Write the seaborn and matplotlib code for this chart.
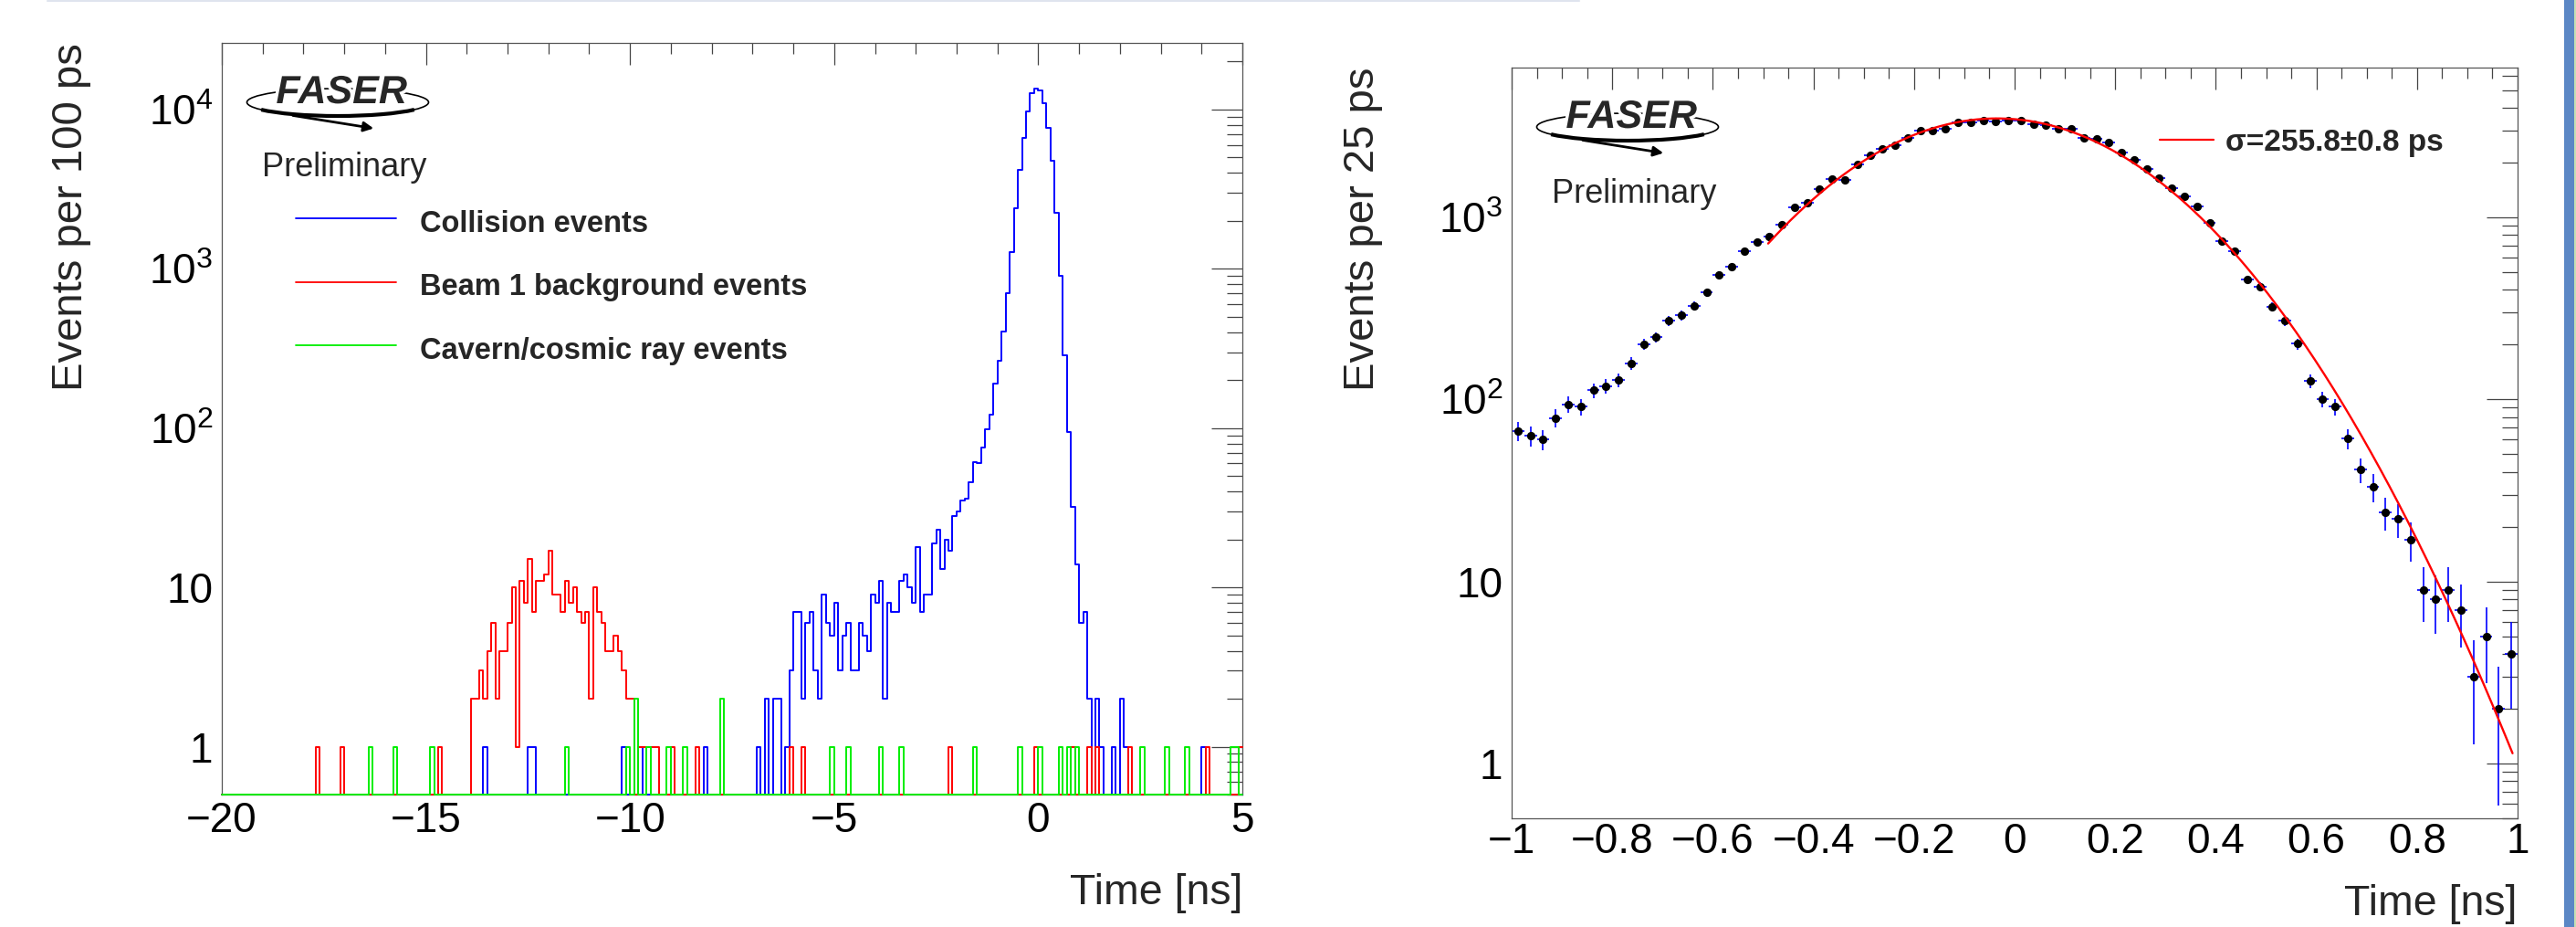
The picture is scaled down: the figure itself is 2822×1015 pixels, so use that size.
import numpy as np
import pandas as pd
import matplotlib
matplotlib.use("Agg")
import matplotlib.pyplot as plt
import matplotlib.patheffects as pe
from matplotlib.patches import Ellipse, Arc, Rectangle, FancyArrowPatch
from matplotlib.lines import Line2D
from matplotlib.ticker import (FixedLocator, MultipleLocator, LogLocator,
                               FuncFormatter, NullFormatter)
import seaborn as sns

sns.set_style("white")
plt.rcParams['font.family'] = ['Liberation Sans', 'DejaVu Sans']
plt.rcParams['mathtext.fontset'] = 'custom'
plt.rcParams['mathtext.rm'] = 'Liberation Sans'
plt.rcParams['mathtext.it'] = 'Liberation Sans:italic'
plt.rcParams['mathtext.bf'] = 'Liberation Sans:bold'

# ---------------- data: left panel (100 ps bins, -20 .. 5 ns) ----------------
# lower edge of every non-empty bin and its count
coll_lo = [-13.6, -12.5, -12.4, -10.2, -9.8, -8.2, -6.9, -6.7, -6.5, -6.4,
           -6.2, -6.1, -6.0, -5.9, -5.8, -5.7, -5.6, -5.5, -5.4, -5.3,
           -5.2, -5.1, -5.0, -4.9, -4.8, -4.7, -4.6, -4.5, -4.4, -4.3,
           -4.2, -4.1, -4.0, -3.9, -3.8, -3.7, -3.6, -3.5, -3.4, -3.3,
           -3.2, -3.1, -3.0, -2.9, -2.8, -2.7, -2.6, -2.5, -2.4, -2.3,
           -2.2, -2.1, -2.0, -1.9, -1.8, -1.7, -1.6, -1.5, -1.4, -1.3,
           -1.2, -1.1, -1.0, -0.9, -0.8, -0.7, -0.6, -0.5, -0.4, -0.3,
           -0.2, -0.1, 0.0, 0.1, 0.2, 0.3, 0.4, 0.5, 0.6, 0.7,
           0.8, 0.9, 1.0, 1.1, 1.2, 1.4, 1.5, 1.8, 2.0, 2.1, 4.0]
coll_n = [1, 1, 1, 1, 1, 1, 1, 2, 2, 2,
          1, 3, 7, 7, 2, 6, 7, 3, 2, 9,
          6, 5, 8, 3, 5, 6, 3, 3, 6, 5,
          4, 9, 8, 11, 2, 8, 7, 7, 11, 12,
          10, 8, 18, 7, 9, 9, 19, 23, 13, 20,
          17, 28, 30, 35, 36, 46, 61, 60, 76, 98,
          122, 190, 265, 405, 705, 1280, 2390, 4160, 6640, 9750,
          12600, 13500, 13100, 11000, 7700, 4800, 2260, 900, 287, 94,
          32, 14, 6, 7, 2, 2, 1, 1, 2, 1, 1]

beam_lo = [-17.7, -17.1, -14.7, -13.9, -13.8, -13.7, -13.6, -13.5, -13.4, -13.3,
           -13.2, -13.1, -13.0, -12.9, -12.8, -12.7, -12.6, -12.5, -12.4, -12.3,
           -12.2, -12.1, -12.0, -11.9, -11.8, -11.7, -11.6, -11.5, -11.4, -11.3,
           -11.2, -11.1, -11.0, -10.9, -10.8, -10.7, -10.6, -10.5, -10.4, -10.3,
           -10.2, -10.1, -10.0, -9.8, -9.7, -9.6, -9.5, -9.4, -9.0, -8.4,
           -6.1, -5.8, -2.2, -0.1, 0.8, 1.2, 1.4, 2.2, 4.1, 4.9]
beam_n = [1, 1, 1, 2, 2, 3, 2, 4, 6, 2,
          4, 4, 6, 10, 1, 11, 8, 15, 7, 11,
          11, 12, 17, 9, 9, 7, 11, 8, 10, 7,
          6, 7, 2, 10, 7, 6, 4, 4, 5, 4,
          3, 2, 2, 1, 1, 1, 1, 1, 1, 1,
          1, 1, 1, 1, 1, 1, 1, 1, 1, 1]

cav_lo = [-16.4, -15.8, -14.9, -11.6, -10.1, -9.9, -9.6, -9.1, -8.7, -7.8,
          -5.1, -4.7, -3.9, -3.4, -1.6, -0.5, 0.0, 0.5, 0.7, 0.9,
          2.5, 3.1, 3.6, 4.7, 4.8]
cav_n = [1, 1, 1, 1, 1, 2, 1, 1, 1, 2,
         1, 1, 1, 1, 1, 1, 1, 1, 1, 1,
         1, 1, 1, 1, 1]

series_labels = ['Collision events', 'Beam 1 background events', 'Cavern/cosmic ray events']
series_colors = ['#0000ff', '#ff0000', '#00ee00']

# ---------------- data: right panel (25 ps bins, -1 .. 1 ns) ----------------
zoom_n = [67, 63, 60, 79, 94, 91, 112, 118, 128, 158,
          201, 219, 270, 289, 327, 386, 485, 536, 650, 735,
          788, 908, 1131, 1203, 1435, 1620, 1610, 1960, 2183, 2376,
          2500, 2720, 3000, 2990, 3077, 3323, 3320, 3388, 3350, 3415,
          3415, 3235, 3210, 3077, 3060, 2730, 2683, 2584, 2273, 2065,
          1846, 1650, 1453, 1300, 1144, 935, 741, 653, 456, 417,
          323, 270, 202, 126, 100, 91, 61, 41, 33, 24,
          22, 17, 9, 8, 9, 7, 3, 5, 2, 4]
fit_amp, fit_mean, fit_sigma = 3490.0, -0.035, 0.2558   # sigma = 255.8 ps
fit_range = (-0.49, 0.99)
fit_label = 'σ=255.8±0.8 ps'

left_xticks = [-20, -15, -10, -5, 0, 5]
right_xticks = [-1, -0.8, -0.6, -0.4, -0.2, 0, 0.2, 0.4, 0.6, 0.8, 1]

# ---------------- figure ----------------
W, H = 2822, 1015
fig = plt.figure(figsize=(W / 100, H / 100), dpi=100)


def fx(x):
    return x / W


def fy(y):
    return 1 - y / H


axL = fig.add_axes([fx(243), fy(870), fx(1361) - fx(243), fy(47) - fy(870)])
axR = fig.add_axes([fx(1656), fy(896), fx(2758) - fx(1656), fy(74) - fy(896)])
for ax in (axL, axR):
    ax.set_yscale('log')

# left: three step histograms
centers = np.round(np.arange(250) * 0.1 - 19.95, 2)
y_floor = 0.5   # ROOT draws empty bins on the frame


def full_hist(lo, n):
    h = np.zeros(len(centers))
    idx = np.round((np.array(lo) + 20) / 0.1).astype(int)
    h[idx] = n
    return h


for lo, n, col in zip([coll_lo, beam_lo, cav_lo], [coll_n, beam_n, cav_n], series_colors):
    df = pd.DataFrame({'t': centers, 'n': np.maximum(full_hist(lo, n), y_floor)})
    sns.histplot(data=df, x='t', weights='n', bins=250, binrange=(-20, 5),
                 element='step', fill=False, color=col, linewidth=1.4,
                 ax=axL, zorder=3, clip_on=False)

# right: points with errors and the fit
tc = np.round(np.arange(80) * 0.025 - 0.9875, 4)
zn = np.array(zoom_n, dtype=float)
axR.errorbar(tc, zn, yerr=np.sqrt(zn), xerr=0.0125, fmt='none',
             ecolor='#0000ff', elinewidth=1.2, capsize=0, zorder=2)
sns.scatterplot(x=tc, y=zn, color='black', s=44, linewidth=0, ax=axR, zorder=3)
xf = np.linspace(fit_range[0], fit_range[1], 400)
yf = fit_amp * np.exp(-0.5 * ((xf - fit_mean) / fit_sigma) ** 2)
sns.lineplot(x=xf, y=yf, color='#ff0000', linewidth=1.7, sort=False,
             errorbar=None, ax=axR, zorder=4)


# axes cosmetics (ROOT look)
def log_label(v, pos):
    if abs(v - 1) < 1e-9:
        return '1'
    if abs(v - 10) < 1e-9:
        return '10'
    return r'$10^{%d}$' % int(round(np.log10(v)))


def num_label(v, pos):
    v = round(v, 2) + 0.0
    return ('%g' % v).replace('-', '\u2212')


axL.set_xlim(-20, 5)
axL.set_ylim(0.5, 2.62e4)
axR.set_xlim(-1, 1)
axR.set_ylim(0.5, 6640)
axL.xaxis.set_major_locator(FixedLocator(left_xticks))
axL.xaxis.set_minor_locator(MultipleLocator(1))
axR.xaxis.set_major_locator(FixedLocator(right_xticks))
axR.xaxis.set_minor_locator(FixedLocator(np.round(np.arange(-1, 1.001, 0.05), 3)))

for ax, xpad in ((axL, 5.3), (axR, 3.2)):
    ax.set_xlabel('')
    ax.set_ylabel('')
    ax.yaxis.set_major_locator(LogLocator(base=10, numticks=20))
    ax.yaxis.set_minor_locator(LogLocator(base=10, subs=np.arange(2, 10), numticks=60))
    ax.yaxis.set_major_formatter(FuncFormatter(log_label))
    ax.yaxis.set_minor_formatter(NullFormatter())
    ax.xaxis.set_major_formatter(FuncFormatter(num_label))
    ax.tick_params(which='both', direction='in', top=True, right=True,
                   color='#444444', width=0.9, labelcolor='black')
    ax.tick_params(axis='x', which='major', length=17.3, labelsize=33, pad=xpad)
    ax.tick_params(axis='x', which='minor', length=8.6)
    ax.tick_params(axis='y', which='major', length=24.5, labelsize=33, pad=7)
    ax.tick_params(axis='y', which='minor', length=12.2)
    for s in ax.spines.values():
        s.set_color('#555555')
        s.set_linewidth(0.9)

# axis titles (ROOT-style, at the axis ends)
fig.text(fx(78), fy(47), 'Events per 100 ps', rotation=90, ha='center', va='top', fontsize=34)
fig.text(fx(1493), fy(74), 'Events per 25 ps', rotation=90, ha='center', va='top', fontsize=34)
fig.text(fx(1361), fy(956), 'Time [ns]', ha='right', va='top', fontsize=33.5)
fig.text(fx(2758), fy(1012), 'Time [ns]', ha='right', va='bottom', fontsize=33.5)


# FASER logo + Preliminary
def faser_logo(dx, dy):
    cx, cy = 370 + dx, 112 + dy
    fig.add_artist(Ellipse((fx(cx), fy(cy)), 199 / W, 30 / H, transform=fig.transFigure,
                           fill=False, ec='black', lw=1.2))
    fig.add_artist(Arc((fx(cx), fy(cy)), 199 / W, 30 / H, theta1=195, theta2=345,
                       transform=fig.transFigure, color='black', lw=3))
    fig.text(fx(374 + dx), fy(102 + dy), 'FASER', fontsize=31, fontweight='bold',
             style='italic', ha='center', va='center',
             path_effects=[pe.withStroke(linewidth=5, foreground='white')])
    fig.add_artist(FancyArrowPatch((fx(318 + dx), fy(126 + dy)), (fx(412 + dx), fy(141 + dy)),
                                   transform=fig.transFigure, arrowstyle='-|>',
                                   mutation_scale=16, lw=2, color='black'))
    fig.text(fx(287 + dx), fy(193 + dy + (2 if dx else 0)), 'Preliminary',
             ha='left', va='baseline', fontsize=26)


faser_logo(0, 0)
faser_logo(1413, 27)

# left legend
for i, (lab, col) in enumerate(zip(series_labels, series_colors)):
    ly = 239 + i * 69.5
    fig.add_artist(Line2D([fx(324), fx(434)], [fy(ly), fy(ly)], color=col, lw=1.3))
    fig.text(fx(460), fy(ly + 15), lab, ha='left', va='baseline', fontsize=23.5,
             fontweight='bold')

# right legend
fig.add_artist(Line2D([fx(2366), fx(2425)], [fy(153), fy(153)], color='#ff0000', lw=1.6))
fig.text(fx(2438), fy(165), fit_label, ha='left', va='baseline', fontsize=24, fontweight='bold')

# slide decorations
fig.add_artist(Line2D([fx(52), fx(1730)], [fy(1), fy(1)], color='#dfe4ee', lw=1.5))
fig.add_artist(Rectangle((fx(2809), 0), fx(2820) - fx(2809), 1, transform=fig.transFigure,
                         color='#5b87c5', lw=0))
fig.add_artist(Rectangle((fx(2820), 0), fx(2822) - fx(2820), 1, transform=fig.transFigure,
                         color='#c5e0b4', lw=0))

fig.savefig('out.png', dpi=100)
